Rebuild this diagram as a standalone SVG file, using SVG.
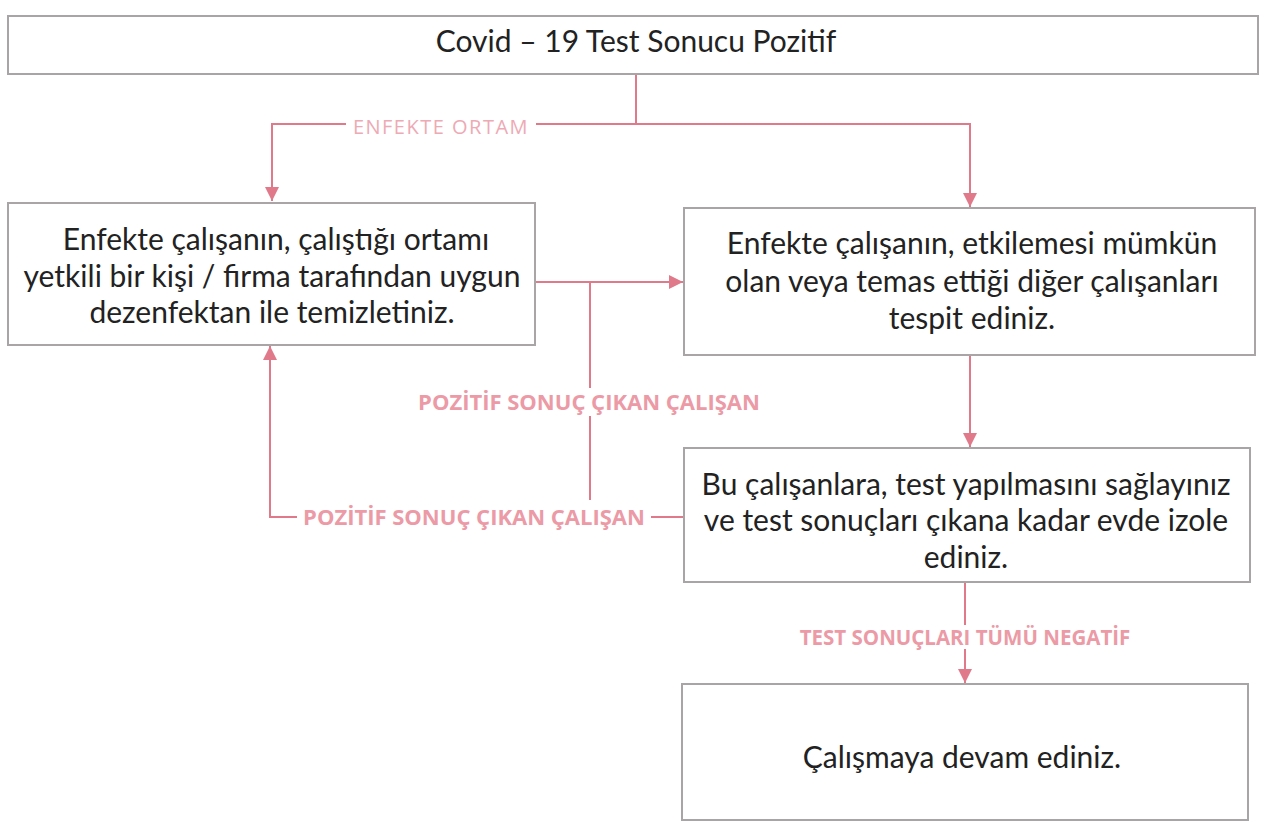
<svg xmlns="http://www.w3.org/2000/svg" width="1270" height="833" viewBox="0 0 1270 833">
<defs>
<style>
.box{fill:#fff;stroke:#a9a4a6;stroke-width:2}
.t{font-family:Lato,"Open Sans",sans-serif;font-size:30px;fill:#222;text-anchor:middle}
.c{fill:none;stroke:#e07a8a;stroke-width:2}
.lb{font-family:"Open Sans","Noto Sans",sans-serif;font-weight:700;fill:#eb9aa6;text-anchor:middle}
.lt{font-family:"Open Sans","Noto Sans",sans-serif;font-weight:400;fill:#eeaab4;text-anchor:middle}
</style>
<marker id="a" viewBox="0 0 10 10" refX="10" refY="5" markerWidth="14" markerHeight="14" orient="auto" markerUnits="userSpaceOnUse">
<path d="M0,0 L10,5 L0,10 z" fill="#e07a8a"/>
</marker>
</defs>
<rect width="1270" height="833" fill="#fff"/>
<g id="connectors">
<path class="c" d="M636,74 V124 H272 V201" marker-end="url(#a)"/>
<path class="c" d="M636,124 H970 V207" marker-end="url(#a)"/>
<path class="c" d="M535,282 H683" marker-end="url(#a)"/>
<path class="c" d="M590,282 V500"/>
<path class="c" d="M684,517 H270 V346" marker-end="url(#a)"/>
<path class="c" d="M970,355 V447" marker-end="url(#a)"/>
<path class="c" d="M965,582 V683" marker-end="url(#a)"/>
<rect x="346" y="114" width="190" height="24" fill="#fff"/>
<text class="lt" x="441" y="134" font-size="20" letter-spacing="1.5">ENFEKTE ORTAM</text>
<rect x="410" y="388" width="358" height="28" fill="#fff"/>
<text class="lb" x="589" y="410" font-size="22">POZİTİF SONUÇ ÇIKAN ÇALIŞAN</text>
<rect x="297" y="503" width="354" height="28" fill="#fff"/>
<text class="lb" x="474" y="525" font-size="22">POZİTİF SONUÇ ÇIKAN ÇALIŞAN</text>
<rect x="796" y="625" width="340" height="24" fill="#fff"/>
<text class="lb" x="965" y="645" font-size="20.5">TEST SONUÇLARI TÜMÜ NEGATİF</text>
</g>
<g id="n1">
<rect class="box" x="8" y="16" width="1250" height="58"/>
<text class="t" x="636" y="52" font-size="29">Covid – 19 Test Sonucu Pozitif</text>
</g>
<g id="n2">
<rect class="box" x="8" y="203" width="527" height="142"/>
<text class="t" x="276" y="250">Enfekte çalışanın, çalıştığı ortamı</text>
<text class="t" x="272" y="287">yetkili bir kişi / firma tarafından uygun</text>
<text class="t" x="272" y="323">dezenfektan ile temizletiniz.</text>
</g>
<g id="n3">
<rect class="box" x="684" y="208" width="571" height="147"/>
<text class="t" x="972" y="254">Enfekte çalışanın, etkilemesi mümkün</text>
<text class="t" x="972" y="292">olan veya temas ettiği  diğer çalışanları</text>
<text class="t" x="972" y="329">tespit ediniz.</text>
</g>
<g id="n4">
<rect class="box" x="684" y="448" width="566" height="134"/>
<text class="t" x="966" y="495">Bu çalışanlara, test yapılmasını sağlayınız</text>
<text class="t" x="966" y="531">ve test sonuçları çıkana kadar evde izole</text>
<text class="t" x="966" y="568">ediniz.</text>
</g>
<g id="n5">
<rect class="box" x="682" y="684" width="566" height="136"/>
<text class="t" x="962" y="768">Çalışmaya devam ediniz.</text>
</g>
</svg>
